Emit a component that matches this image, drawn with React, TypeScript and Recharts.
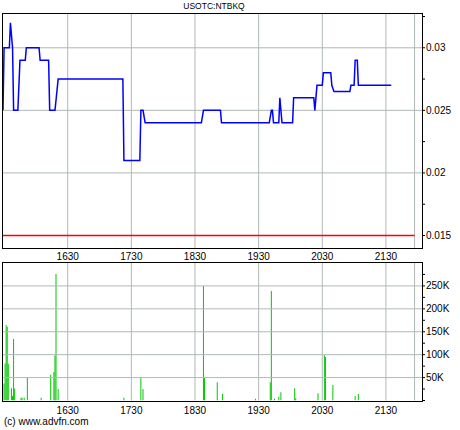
import React from 'react'
import {
  LineChart, Line, BarChart, Bar, XAxis, YAxis, ReferenceLine,
} from 'recharts'

// minutes since midnight
const priceTimes = [
  929, 930, 935, 936, 938, 939, 943, 945, 950, 951,
  963, 964, 972, 973, 978, 981, 1042, 1043, 1058, 1059,
  1061, 1063, 1116, 1118, 1134, 1135, 1180, 1182, 1183, 1184,
  1189, 1190, 1192, 1202, 1203, 1222, 1223, 1225, 1230, 1231,
  1238, 1239, 1241, 1256, 1257, 1260, 1261, 1263, 1264, 1295,
]
const priceValues = [
  0.025, 0.03, 0.03, 0.032, 0.03, 0.025, 0.025, 0.029, 0.029, 0.03,
  0.03, 0.029, 0.029, 0.025, 0.025, 0.0275, 0.0275, 0.021, 0.021, 0.025,
  0.025, 0.024, 0.024, 0.025, 0.025, 0.024, 0.024, 0.025, 0.025, 0.024,
  0.024, 0.026, 0.024, 0.024, 0.026, 0.026, 0.025, 0.027, 0.027, 0.028,
  0.028, 0.027, 0.0265, 0.0265, 0.027, 0.027, 0.029, 0.029, 0.027, 0.027,
]

const volTimes = [
  930, 931, 932, 933, 934, 937, 938, 939, 940, 946,
  947, 949, 952, 965, 974, 977, 978, 979, 981, 1043,
  1059, 1061, 1118, 1119, 1131, 1136, 1167, 1181, 1182, 1185,
  1189, 1191, 1204, 1205, 1226, 1232, 1233, 1240, 1261, 1264,
]
const volValues = [
  37000, 81000, 165000, 161000, 80000, 27000, 10000, 134000, 26000, 6000,
  6000, 6000, 49000, 6000, 56000, 62000, 98000, 276000, 25000, 6000,
  49000, 25000, 250000, 49000, 40000, 14000, 4000, 40000, 239000, 4000,
  8000, 18000, 27000, 5000, 16000, 99000, 95000, 34000, 10000, 14000,
]

const xDomain = [929, 1324]
const xTicks = [990, 1050, 1110, 1170, 1230, 1290]
const xTickLabels = ['1630', '1730', '1830', '1930', '2030', '2130']
const sessionEnd = 1317

const priceDomain = [0.014, 0.0327]
const priceTicks = [0.015, 0.0175, 0.02, 0.0225, 0.025, 0.0275, 0.03, 0.0325]
const priceTickLabels = ['0.015', '', '0.02', '', '0.025', '', '0.03', '']
const priceGrid = [0.02, 0.025, 0.03]
const prevCloseTimes = [929, sessionEnd]
const prevCloseValues = [0.015, 0.015]

const volDomain = [0, 300000]
const volTicks = [0, 25000, 50000, 75000, 100000, 125000, 150000, 175000, 200000, 225000, 250000, 275000]
const volTickLabels = ['', '', '50K', '', '100K', '', '150K', '', '200K', '', '250K', '']
const volGrid = [50000, 100000, 150000, 200000, 250000]

const priceData = priceTimes.map((t, i) => ({ t, price: priceValues[i] }))
const prevCloseData = prevCloseTimes.map((t, i) => ({ t, prev: prevCloseValues[i] }))
const volData = volTimes.map((t, i) => ({ t, vol: volValues[i] }))

const FONT = "'Liberation Sans Narrow', 'Arial Narrow', 'Liberation Sans', sans-serif"
const GRID = '#b0b8b8'
const tickStyle = { fontSize: 10, fill: '#000', fontFamily: FONT }

const frame = (left: number, top: number, width: number, height: number): React.CSSProperties => ({
  position: 'absolute', left, top, width, height,
  border: '1.5px solid #000', boxSizing: 'border-box', pointerEvents: 'none',
})

export default function App() {
  return (
    <div style={{ position: 'absolute', left: 0, top: 0, width: 460, height: 430, background: '#fff', fontFamily: FONT }}>
      <div style={{ position: 'absolute', left: 0, top: 1, width: 428, textAlign: 'center', fontSize: 8.5, lineHeight: '10px' }}>
        USOTC:NTBKQ
      </div>

      <div style={{ position: 'absolute', left: 0, top: 0 }}>
        <LineChart width={460} height={270} margin={{ top: 14, right: 0, left: 3, bottom: 0 }}>
          <XAxis
            dataKey="t" type="number" domain={xDomain} ticks={xTicks}
            tickFormatter={(v: number, i: number) => xTickLabels[i]}
            tick={tickStyle} tickLine={false} axisLine={false}
            tickSize={2} tickMargin={3} height={22} allowDataOverflow
          />
          <YAxis
            orientation="right" type="number" domain={priceDomain} ticks={priceTicks}
            tickFormatter={(v: number, i: number) => priceTickLabels[i]}
            tick={tickStyle} tickLine={{ stroke: '#000' }} axisLine={false}
            tickSize={3} tickMargin={1} width={38} allowDataOverflow interval={0}
          />
          {[...xTicks, sessionEnd].map(x => (
            <ReferenceLine key={'vx' + x} x={x} stroke={GRID} strokeWidth={1} />
          ))}
          {priceGrid.map(y => (
            <ReferenceLine key={'hy' + y} y={y} stroke={GRID} strokeWidth={1} />
          ))}
          <Line
            data={prevCloseData} type="linear" dataKey="prev" stroke="#ff0000" strokeWidth={1.6}
            dot={false} isAnimationActive={false}
          />
          <Line
            data={priceData} type="linear" dataKey="price" stroke="#0000ff" strokeWidth={1.5}
            dot={false} isAnimationActive={false}
          />
        </LineChart>
      </div>
      <div style={frame(2, 13, 421, 236)} />

      <div style={{ position: 'absolute', left: 0, top: 250 }}>
        <BarChart width={460} height={180} data={volData} margin={{ top: 13, right: 0, left: 3, bottom: 11.5 }}>
          <XAxis
            dataKey="t" type="number" domain={xDomain} ticks={xTicks}
            tickFormatter={(v: number, i: number) => xTickLabels[i]}
            tick={tickStyle} tickLine={false} axisLine={false}
            tickSize={2} tickMargin={4} height={18} allowDataOverflow
          />
          <YAxis
            orientation="right" type="number" domain={volDomain} ticks={volTicks}
            tickFormatter={(v: number, i: number) => volTickLabels[i]}
            tick={tickStyle} tickLine={{ stroke: '#000' }} axisLine={false}
            tickSize={3} tickMargin={1} width={38} allowDataOverflow interval={0}
          />
          {[...xTicks, sessionEnd].map(x => (
            <ReferenceLine key={'vx' + x} x={x} stroke={GRID} strokeWidth={1} />
          ))}
          {volGrid.map(y => (
            <ReferenceLine key={'hy' + y} y={y} stroke={GRID} strokeWidth={1} />
          ))}
          <Bar dataKey="vol" fill="#00c800" barSize={1} isAnimationActive={false} />
        </BarChart>
      </div>
      <div style={frame(2, 262, 421, 139.5)} />

      <div style={{ position: 'absolute', left: 4, top: 416, fontSize: 10, lineHeight: '12px' }}>
        (c) www.advfn.com
      </div>
    </div>
  )
}
